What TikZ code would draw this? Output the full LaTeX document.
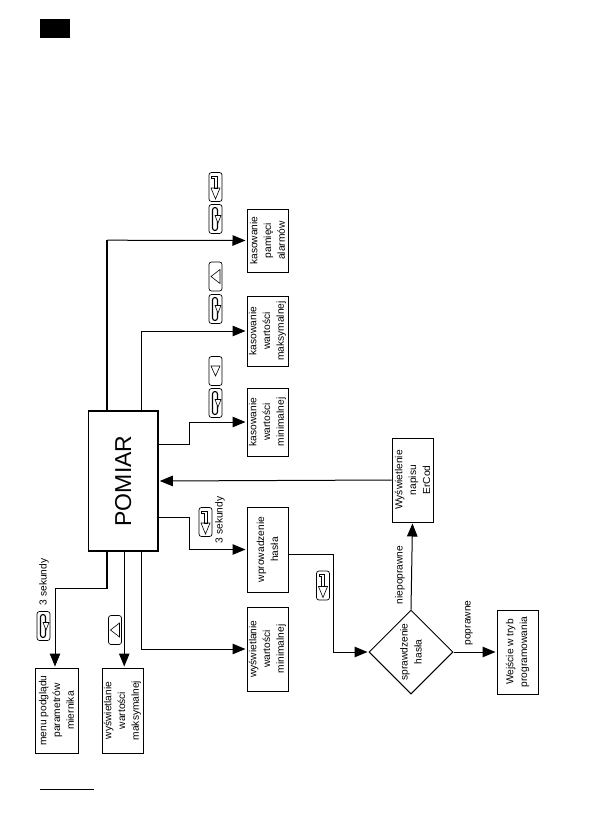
\documentclass[tikz,border=0pt]{standalone}
\usepackage{fontspec}
\setmainfont{Liberation Sans}
\usetikzlibrary{shapes,shapes.geometric,arrows,arrows.meta,positioning}
\tikzset{
    box/.style={draw, rectangle, rotate=90, align=center, inner sep=0pt, line width=1pt, minimum height=41pt},
    conn/.style={-{Triangle[length=13pt,width=10.5pt]}, line width=1pt, shorten >=1pt},
    heavy/.style={line width=2pt},
    lbl/.style={rotate=90, inner sep=0pt},
    keyframe/.style={draw, line width=.7pt, rounded corners=2.5pt},
    keyglyph/.style={draw, line width=.6pt},
    pics/keyenter/.style={code={
        \draw[keyframe] (-6.5,-14.5) rectangle (6.5,14.5);
        \draw[keyglyph] (-4,-11) -- (1.5,-11) -- (1.5,1) -- (-1.5,1) -- (-1.5,-9) -- (-4,-9) -- cycle;
        \draw[keyglyph] (-4.5,1) -- (4.5,1) -- (0,12) -- cycle;
    }},
    pics/keyloop/.style={code={
        \draw[keyframe] (-6.5,-14.5) rectangle (6.5,14.5);
        \draw[line width=1.1pt, rounded corners=2.5pt] (-3,-11.5) rectangle (2,11.5);
        \draw[keyglyph, fill=white] (-.5,-3.5) -- (5.5,-3.5) -- (2.5,4) -- cycle;
    }},
    pics/keyleft/.style={code={
        \draw[keyframe] (-6.5,-14.5) rectangle (6.5,14.5);
        \draw[keyglyph] (4.5,-7) -- (4.5,7) -- (-4.5,0) -- cycle;
    }},
    pics/keydown/.style={code={
        \draw[keyframe] (-6.5,-14.5) rectangle (6.5,14.5);
        \draw[keyglyph] (-4.5,-5) -- (4.5,-5) -- (0,5) -- cycle;
    }},
}
\begin{document}
\begin{tikzpicture}
            [x=1pt, y=-1pt, font=\fontsize{10.2}{13.8}\selectfont]
            \useasboundingbox (0,0) rectangle (595,839);

            \node[fill=black, minimum width=30pt, minimum height=19pt, inner sep=0pt] (mark) at (55,28.5) {};
            \coordinate (rulea) at (40,789);
            \coordinate (ruleb) at (94,789);
            \draw[line width=.8pt] (rulea) -- (ruleb);

            \node[box, line width=1.6pt, minimum width=140pt, minimum height=69.5pt, font=\fontsize{23}{26}\selectfont] (pomiar) at (123.25,481) {POMIAR};

            \node[box, minimum width=63pt] (alarmdel) at (267.5,240.5) {kasowanie\\pamięci\\alarmów};
            \node[box, minimum width=70pt] (maxdel) at (267.5,331) {kasowanie\\wartości\\maksymalnej};
            \node[box, minimum width=68pt] (mindel) at (267.5,422) {kasowanie\\wartości\\minimalnej};
            \node[box, minimum width=85pt] (haslo) at (267.5,549.5) {wprowadzenie\\hasła};
            \node[box, minimum width=84pt] (minshow) at (267.5,649) {wyświetlanie\\wartości\\minimalnej};
            \node[box, minimum width=85pt] (maxshow) at (122.5,710.5) {wyświetlanie\\wartości\\maksymalnej};
            \node[box, minimum width=85pt, minimum height=43pt] (menu) at (56.5,710.5) {menu podglądu\\parametrów\\miernika};
            \node[box, minimum width=84pt] (erfcod) at (412.5,480) {Wyświetlenie\\napisu\\ErCod};
            \node[box, minimum width=84pt] (prog) at (517.5,652) {Wejście w tryb\\programowania};
            \node[draw, diamond, rotate=90, align=center, aspect=1, inner sep=0pt, line width=1pt, minimum size=84pt] (check) at (411,652) {sprawdzenie\\hasła};

            \draw[heavy] ([xshift=-16pt]pomiar.east) -- +(0,-170) coordinate (alarmbend);
            \draw[conn] (alarmbend) -- (alarmdel.north);
            \draw[conn] ([xshift=18pt]pomiar.east) |- (maxdel.north);
            \draw[conn] ([yshift=37pt]pomiar.south) -- ++(31,0) |- (mindel.north);
            \draw[conn] (erfcod.north) -- (pomiar.south);
            \draw[conn] ([yshift=-36pt]pomiar.south) -- ++(31,0) |- (haslo.north);
            \draw[heavy] ([xshift=-16pt]pomiar.west) -- +(0,37) coordinate (menubend);
            \draw[conn] (menubend) -| ([xshift=-1.5pt]menu.east);
            \draw[conn] ([xshift=1pt]pomiar.west) -- ([xshift=1.75pt]maxshow.east);
            \draw[conn] ([xshift=18pt]pomiar.west) |- (minshow.north);
            \draw[conn] ([yshift=-4.5pt]haslo.south) -- ++(45,0) |- (check.north);
            \draw[conn] (check.east) -- (erfcod.west);
            \draw[conn] (check.south) -- (prog.north);

            \node[lbl] (lblthreea) at (220,520) {3 sekundy};
            \node[lbl] (lblthreeb) at (44,582) {3 sekundy};
            \node[lbl] (lblwrong) at (400,575) {niepoprawne};
            \node[lbl] (lblright) at (469,623) {poprawne};

            \pic at (215.5,187) {keyenter};
            \pic at (215.5,219) {keyloop};
            \pic at (215.5,276.5) {keyleft};
            \pic at (215.5,309) {keyloop};
            \pic at (215.5,371) {keydown};
            \pic at (215.5,403) {keyloop};
            \pic at (205.5,522) {keyenter};
            \pic at (323,585.5) {keyenter};
            \pic at (43.5,626) {keyloop};
            \pic at (115,630) {keyleft};
        \end{tikzpicture}
\end{document}
